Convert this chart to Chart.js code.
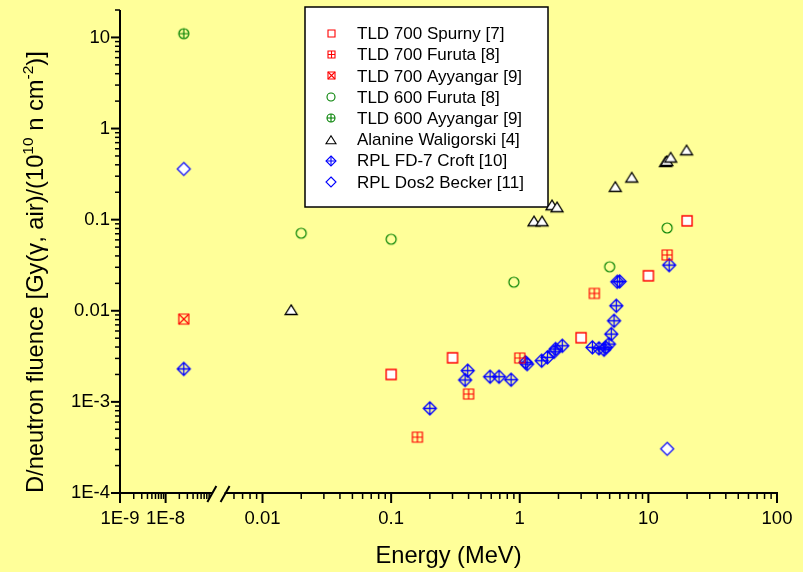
<!DOCTYPE html>
<html><head><meta charset="utf-8">
<script src="https://cdn.jsdelivr.net/npm/chart.js@4/dist/chart.umd.min.js"></script>
<style>html,body{margin:0;padding:0;background:#FFFF99;}canvas{display:block;}</style>
</head><body>
<canvas id="c" width="803" height="572"></canvas>
<script>
// ---------- data (energy in MeV, dose per fluence) ----------
const seriesLabels = ['TLD 700 Spurny [7]','TLD 700 Furuta [8]','TLD 700 Ayyangar [9]','TLD 600 Furuta [8]','TLD 600 Ayyangar [9]','Alanine Waligorski [4]','RPL FD-7 Croft [10]','RPL Dos2 Becker [11]'];

const tld700SpurnyE = [0.1, 0.3, 3, 10, 20];
const tld700SpurnyD = [0.002, 0.00305, 0.00506, 0.0242, 0.097];

const tld700FurutaE = [0.16, 0.4, 1.0, 3.8, 14];
const tld700FurutaD = [0.00041, 0.00122, 0.00303, 0.0155, 0.041];

const tld700AyyangarE = [2.5e-8];
const tld700AyyangarD = [0.0081];

const tld600FurutaE = [0.02, 0.1, 0.9, 5, 14];
const tld600FurutaD = [0.071, 0.061, 0.0206, 0.0304, 0.081];

const tld600AyyangarE = [2.5e-8];
const tld600AyyangarD = [11];

const alanineE = [0.0167, 1.29, 1.49, 1.78, 1.95, 5.53, 7.42, 13.6, 13.9, 14.9, 19.8];
const alanineD = [0.0102, 0.096, 0.096, 0.144, 0.137, 0.229, 0.29, 0.43, 0.441, 0.481, 0.577];

const rplCroftE = [2.5e-8, 0.2, 0.394, 0.376, 0.588, 0.69, 0.856, 1.11, 1.14, 1.48, 1.64, 1.85, 1.90, 2.14, 3.67, 4.13, 4.52, 4.66, 4.94, 5.15, 5.41, 5.63, 5.73, 5.98, 14.5];
const rplCroftD = [0.0023, 0.00085, 0.0022, 0.00174, 0.00189, 0.00189, 0.00175, 0.00272, 0.0026, 0.00283, 0.00308, 0.00355, 0.0038, 0.00413, 0.00397, 0.00387, 0.00374, 0.00397, 0.00431, 0.00555, 0.00777, 0.01135, 0.0208, 0.021, 0.0317];

const rplBeckerE = [2.5e-8, 14];
const rplBeckerD = [0.36, 0.000305];

const xTickValues = [1e-9, 1e-8, 0.01, 0.1, 1, 10, 100];
const xTickLabels = ['1E-9', '1E-8', '0.01', '0.1', '1', '10', '100'];
const yTickValues = [1e-4, 1e-3, 0.01, 0.1, 1, 10];
const yTickLabels = ['1E-4', '1E-3', '0.01', '0.1', '1', '10'];

// ---------- broken log axis transform ----------
const LEFT_MIN = -3.108;           // axis value of 1E-9
const LEFT_K = 0.3546;             // compression of the left (thermal) segment
function brk(E) {
  const l = Math.log10(E);
  if (l < -5) return LEFT_MIN + (l + 9) * LEFT_K;
  return l;
}

// ---------- markers ----------
function makeMarker(kind, deco, color, fill, s, lw) {
  const size = Math.ceil(s + 4);
  const c = document.createElement('canvas');
  c.width = c.height = size;
  const g = c.getContext('2d');
  const m = size / 2, h = s / 2;
  g.lineWidth = lw; g.strokeStyle = color;
  g.beginPath();
  if (kind === 'square') g.rect(m - h, m - h, s, s);
  else if (kind === 'circle') g.arc(m, m, h, 0, Math.PI * 2);
  else if (kind === 'triangle') { g.moveTo(m, m - h * 0.85); g.lineTo(m + h, m + h * 0.75); g.lineTo(m - h, m + h * 0.75); g.closePath(); }
  else if (kind === 'diamond') { g.moveTo(m, m - h); g.lineTo(m + h, m); g.lineTo(m, m + h); g.lineTo(m - h, m); g.closePath(); }
  if (fill) { g.fillStyle = fill; g.fill(); }
  g.stroke();
  g.beginPath();
  if (deco === 'plus') { g.moveTo(m - h, m); g.lineTo(m + h, m); g.moveTo(m, m - h); g.lineTo(m, m + h); }
  if (deco === 'x') { g.moveTo(m - h, m - h); g.lineTo(m + h, m + h); g.moveTo(m + h, m - h); g.lineTo(m - h, m + h); }
  g.stroke();
  return c;
}
const markerSpec = [
  ['square', null, '#FF0000', '#FFFFFF', 10, 1.4, 7],
  ['square', 'plus', '#FF0000', null, 10, 1.2, 7],
  ['square', 'x', '#FF0000', null, 10, 1.2, 7],
  ['circle', null, '#008000', null, 10, 1.2, 8],
  ['circle', 'plus', '#008000', null, 10, 1.2, 8],
  ['triangle', null, '#000000', '#FFFFFF', 12, 1.3, 10],
  ['diamond', 'plus', '#0000FF', null, 13, 1.3, 10],
  ['diamond', null, '#0000FF', '#FFFFFF', 13, 1.2, 10]
];
const plotMarkers = markerSpec.map(s => makeMarker(s[0], s[1], s[2], s[3], s[4], s[5]));
const legendMarkers = markerSpec.map(s => makeMarker(s[0], s[1], s[2], '#FFFFFF', s[6], 1.1));

const seriesE = [tld700SpurnyE, tld700FurutaE, tld700AyyangarE, tld600FurutaE, tld600AyyangarE, alanineE, rplCroftE, rplBeckerE];
const seriesD = [tld700SpurnyD, tld700FurutaD, tld700AyyangarD, tld600FurutaD, tld600AyyangarD, alanineD, rplCroftD, rplBeckerD];

const datasets = seriesLabels.map((lab, i) => ({
  label: lab,
  data: seriesE[i].map((e, j) => ({x: brk(e), y: seriesD[i][j]})),
  pointStyle: plotMarkers[i],
  pointRadius: 6,
  showLine: false
}));

const FONT = '"Liberation Sans", Arial, sans-serif';

// ---------- plugins ----------
const bgPlugin = {
  id: 'bg',
  beforeDraw(chart) {
    const ctx = chart.ctx;
    ctx.save(); ctx.fillStyle = '#FFFF99'; ctx.fillRect(0, 0, chart.width, chart.height); ctx.restore();
  }
};

const axesPlugin = {
  id: 'axesDraw',
  beforeDatasetsDraw(chart) {
    const ctx = chart.ctx, xs = chart.scales.x, ys = chart.scales.y, a = chart.chartArea;
    ctx.save();
    ctx.strokeStyle = '#000'; ctx.lineWidth = 2; ctx.lineCap = 'butt';
    // y axis
    ctx.beginPath(); ctx.moveTo(a.left, a.top); ctx.lineTo(a.left, a.bottom + 1); ctx.stroke();
    // y ticks
    for (let k = -4; k <= 1; k++) {
      for (let m = 1; m <= 9; m++) {
        const v = m * Math.pow(10, k);
        if (v < 1e-4 - 1e-12 || v > 20 + 1e-9) continue;
        const py = ys.getPixelForValue(v);
        const len = m === 1 ? 9 : 5;
        ctx.lineWidth = m === 1 ? 2 : 1.5;
        ctx.beginPath(); ctx.moveTo(a.left, py); ctx.lineTo(a.left - len, py); ctx.stroke();
      }
    }
    // x axis (broken)
    const breakA = xs.getPixelForValue(-2.39), breakB = xs.getPixelForValue(-2.295);
    ctx.lineWidth = 2;
    ctx.beginPath(); ctx.moveTo(a.left - 1, a.bottom); ctx.lineTo(breakA, a.bottom);
    ctx.moveTo(breakB, a.bottom); ctx.lineTo(a.right + 1, a.bottom); ctx.stroke();
    // break marks
    ctx.beginPath();
    ctx.moveTo(breakA - 5, a.bottom + 9); ctx.lineTo(breakA + 4, a.bottom - 7);
    ctx.moveTo(breakB - 4, a.bottom + 9); ctx.lineTo(breakB + 5, a.bottom - 7);
    ctx.stroke();
    // x ticks
    const xticks = [];
    for (let k = -9; k <= -8; k++) for (let m = 1; m <= 9; m++) xticks.push([m * Math.pow(10, k), m === 1]);
    for (let m = 6; m <= 9; m++) xticks.push([m * 1e-3, false]);
    for (let k = -2; k <= 1; k++) for (let m = 1; m <= 9; m++) xticks.push([m * Math.pow(10, k), m === 1]);
    xticks.push([100, true]);
    xticks.forEach(([v, major]) => {
      const px = xs.getPixelForValue(brk(v));
      ctx.lineWidth = major ? 2 : 1.5;
      ctx.beginPath(); ctx.moveTo(px, a.bottom); ctx.lineTo(px, a.bottom + (major ? 10 : 6)); ctx.stroke();
    });
    // axis titles
    ctx.fillStyle = '#000';
    ctx.font = '23.7px ' + FONT;
    ctx.textAlign = 'center'; ctx.textBaseline = 'alphabetic';
    ctx.fillText('Energy (MeV)', (a.left + a.right) / 2, 563);
    // y title with superscripts
    const parts = [['D/neutron fluence [Gy(\u03B3, air)/(10', false], ['10', true], [' n cm', false], ['-2', true], [')]', false]];
    ctx.translate(43, 493); ctx.rotate(-Math.PI / 2);
    ctx.textAlign = 'left';
    let x = 0;
    parts.forEach(([t, sup]) => {
      ctx.font = (sup ? '15.5px ' : '23.7px ') + FONT;
      ctx.fillText(t, x, sup ? -10 : 0);
      x += ctx.measureText(t).width;
    });
    ctx.restore();
  }
};

const legendPlugin = {
  id: 'boxLegend',
  beforeDatasetsDraw(chart) {
    const ctx = chart.ctx;
    const bx = 305, by = 7, bw = 243, bh = 200;
    ctx.save();
    ctx.fillStyle = '#FFFFFF'; ctx.fillRect(bx, by, bw, bh);
    ctx.strokeStyle = '#000'; ctx.lineWidth = 1.5; ctx.strokeRect(bx, by, bw, bh);
    ctx.font = '17px ' + FONT; ctx.fillStyle = '#000'; ctx.textBaseline = 'middle'; ctx.textAlign = 'left';
    chart.data.datasets.forEach((ds, i) => {
      const yy = 33.5 + i * 21.2;
      const mk = legendMarkers[i];
      ctx.drawImage(mk, Math.round(331 - mk.width / 2), Math.round(yy - mk.height / 2));
      ctx.fillText(ds.label, 357, yy + 1);
    });
    ctx.restore();
  }
};

new Chart(document.getElementById('c'), {
  type: 'scatter',
  data: {datasets},
  plugins: [bgPlugin, axesPlugin, legendPlugin],
  options: {
    responsive: false,
    animation: false,
    layout: {padding: {top: 10, right: 26, left: 0, bottom: 0}},
    plugins: {legend: {display: false}, tooltip: {enabled: false}},
    scales: {
      x: {
        type: 'linear', min: LEFT_MIN, max: 2,
        border: {display: false},
        grid: {display: false, drawTicks: false},
        afterBuildTicks: s => { s.ticks = xTickValues.map(v => ({value: brk(v)})); },
        afterFit: s => { s.height = 79; s.paddingLeft = 0; s.paddingRight = 0; },
        ticks: {autoSkip: false, maxRotation: 0, padding: 15, color: '#000', font: {size: 18.5, family: FONT},
          callback: (v, i) => xTickLabels[i]}
      },
      y: {
        type: 'logarithmic', min: 1e-4, max: 20,
        border: {display: false},
        grid: {display: false, drawTicks: false},
        afterBuildTicks: s => { s.ticks = yTickValues.map(v => ({value: v})); },
        afterFit: s => { s.width = 120; s.paddingTop = 0; s.paddingBottom = 0; },
        ticks: {autoSkip: false, padding: 10, color: '#000', font: {size: 18.5, family: FONT},
          callback: (v, i) => yTickLabels[i]}
      }
    }
  }
});
</script>
</body></html>
